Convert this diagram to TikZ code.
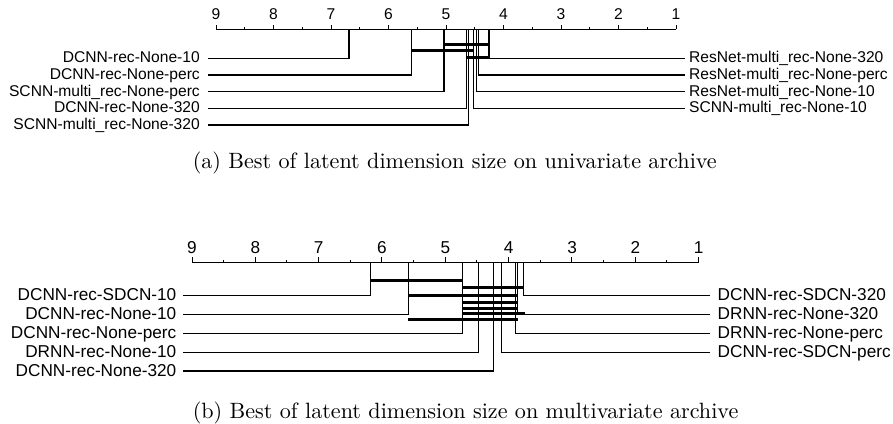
\documentclass[tikz,border=0pt]{standalone}
\usepackage{fontspec}
\usepackage{graphicx}
\usetikzlibrary{calc}
\newfontfamily\lblfont{Liberation Sans}
\newsavebox\capAbox
\newsavebox\capBbox
\begin{document}
\sbox\capAbox{(a) Best of latent dimension size on univariate archive}
\sbox\capBbox{(b) Best of latent dimension size on multivariate archive}
\pgfmathsetmacro{\capscale}{524/(\wd\capAbox)}
\begin{tikzpicture}[x=1pt,y=-1pt,
  thinln/.style={line width=1.3pt},
  barln/.style={line width=3pt},
  lblA/.style={font=\lblfont\fontsize{15.6}{18}\selectfont, text height=11.2pt, text depth=2pt, inner ysep=0pt},
  lblB/.style={font=\lblfont\fontsize{17.2}{20}\selectfont, text height=12.3pt, text depth=2.2pt, inner ysep=0pt},
  tickA/.style={font=\lblfont\fontsize{15.6}{18}\selectfont, inner sep=0pt, anchor=base},
  tickB/.style={font=\lblfont\fontsize{17.2}{20}\selectfont, inner sep=0pt, anchor=base},
  capnode/.style={inner sep=0pt, anchor=base west}]
\useasboundingbox (0,0) rectangle (893,423);

% ================= (a) =================
\coordinate (axA0) at (216,29.3);
\coordinate (axA1) at (676,29.3);
\draw[thinln] (axA0) -- (axA1);
\foreach \i in {0,...,16}{
  \pgfmathsetmacro{\tl}{mod(\i,2)==0 ? 4.5 : 2.2}
  \draw[line width=1pt] ($(axA0)+(\i*28.75,0)$) -- ++(0,-\tl);
}
\foreach \n in {1,...,9}{
  \node[tickA] (tA\n) at ({216+(9-\n)*57.5},19.5) {\n};
}
% rank positions on the axis
\coordinate (a0) at (349,29.3);
\coordinate (a1) at (411.5,29.3);
\coordinate (a2) at (444,29.3);
\coordinate (a3) at (466.8,29.3);
\coordinate (a4) at (468.5,29.3);
\coordinate (a5) at (473.7,29.3);
\coordinate (a6) at (476.3,29.3);
\coordinate (a7) at (478.2,29.3);
\coordinate (a8) at (489,29.3);
% labels
\node[lblA, anchor=east, inner xsep=8pt] (la0) at (208,58.3) {DCNN-rec-None-10};
\node[lblA, anchor=east, inner xsep=8pt] (la1) at (208,75) {DCNN-rec-None-perc};
\node[lblA, anchor=east, inner xsep=8pt] (la2) at (208,91.7) {SCNN-multi\_rec-None-perc};
\node[lblA, anchor=east, inner xsep=8pt] (la3) at (208,108.3) {DCNN-rec-None-320};
\node[lblA, anchor=east, inner xsep=8pt] (la4) at (208,125) {SCNN-multi\_rec-None-320};
\node[lblA, anchor=west, inner xsep=4pt] (la8) at (685,58.3) {ResNet-multi\_rec-None-320};
\node[lblA, anchor=west, inner xsep=4pt] (la7) at (685,75) {ResNet-multi\_rec-None-perc};
\node[lblA, anchor=west, inner xsep=4pt] (la6) at (685,91.7) {ResNet-multi\_rec-None-10};
\node[lblA, anchor=west, inner xsep=4pt] (la5) at (685,108.3) {SCNN-multi\_rec-None-10};
\foreach \k in {0,...,8}{
  \draw[thinln] (a\k) |- (la\k);
}
% cliques
\coordinate (ca1) at (0,44);
\coordinate (ca2) at (0,50.7);
\coordinate (ca3) at (0,57.7);
\draw[barln] (a2 |- ca1) -- (a8 |- ca1);
\draw[barln] (a1 |- ca2) -- (a5 |- ca2);
\draw[barln] (a3 |- ca3) -- (a8 |- ca3);
\node[capnode] (capA) at (192.6,168.5) {\scalebox{\capscale}{\usebox\capAbox}};

% ================= (b) =================
\coordinate (axB0) at (192,262.3);
\coordinate (axB1) at (698.7,262.3);
\draw[thinln] (axB0) -- (axB1);
\foreach \i in {0,...,16}{
  \pgfmathsetmacro{\tl}{mod(\i,2)==0 ? 5 : 2.5}
  \draw[line width=1pt] ($(axB0)+(\i*31.6625,0)$) -- ++(0,-\tl);
}
\foreach \n in {1,...,9}{
  \node[tickB] (tB\n) at ({192+(9-\n)*63.3375},253.5) {\n};
}
\coordinate (b0) at (370.3,262.3);
\coordinate (b1) at (408.3,262.3);
\coordinate (b2) at (462.8,262.3);
\coordinate (b3) at (478.5,262.3);
\coordinate (b4) at (493.3,262.3);
\coordinate (b5) at (501.5,262.3);
\coordinate (b6) at (515.5,262.3);
\coordinate (b7) at (517.8,262.3);
\coordinate (b8) at (523.3,262.3);
\node[lblB, anchor=east, inner xsep=6pt] (lb0) at (182.5,295.7) {DCNN-rec-SDCN-10};
\node[lblB, anchor=east, inner xsep=6pt] (lb1) at (182.5,314.3) {DCNN-rec-None-10};
\node[lblB, anchor=east, inner xsep=6pt] (lb2) at (182.5,333.3) {DCNN-rec-None-perc};
\node[lblB, anchor=east, inner xsep=6pt] (lb3) at (182.5,352.3) {DRNN-rec-None-10};
\node[lblB, anchor=east, inner xsep=6pt] (lb4) at (182.5,371) {DCNN-rec-None-320};
\node[lblB, anchor=west, inner xsep=7.5pt] (lb8) at (710,295.7) {DCNN-rec-SDCN-320};
\node[lblB, anchor=west, inner xsep=7.5pt] (lb7) at (710,314.3) {DRNN-rec-None-320};
\node[lblB, anchor=west, inner xsep=7.5pt] (lb6) at (710,333.3) {DRNN-rec-None-perc};
\node[lblB, anchor=west, inner xsep=7.5pt] (lb5) at (710,352.3) {DCNN-rec-SDCN-perc};
\foreach \k in {0,...,8}{
  \draw[thinln] (b\k) |- (lb\k);
}
\coordinate (cb1) at (0,280.2);
\coordinate (cb2) at (0,287.3);
\coordinate (cb3) at (0,295);
\coordinate (cb4) at (0,302);
\coordinate (cb5) at (0,308);
\coordinate (cb6) at (0,313.8);
\coordinate (cb7) at (0,319.5);
\draw[barln] (b0 |- cb1) -- (b2 |- cb1);
\draw[barln] (b2 |- cb2) -- (b8 |- cb2);
\draw[barln] (b1 |- cb3) -- (b7 |- cb3);
\draw[barln] (b2 |- cb4) -- (b7 |- cb4);
\draw[barln] (b2 |- cb5) -- (b7 |- cb5);
\draw[barln] (b2 |- cb6) -- ([xshift=1.7pt]b8 |- cb6);
\draw[barln] (b1 |- cb7) -- (b7 |- cb7);
\node[capnode] (capB) at (192.6,418) {\scalebox{\capscale}{\usebox\capBbox}};
\end{tikzpicture}
\end{document}
